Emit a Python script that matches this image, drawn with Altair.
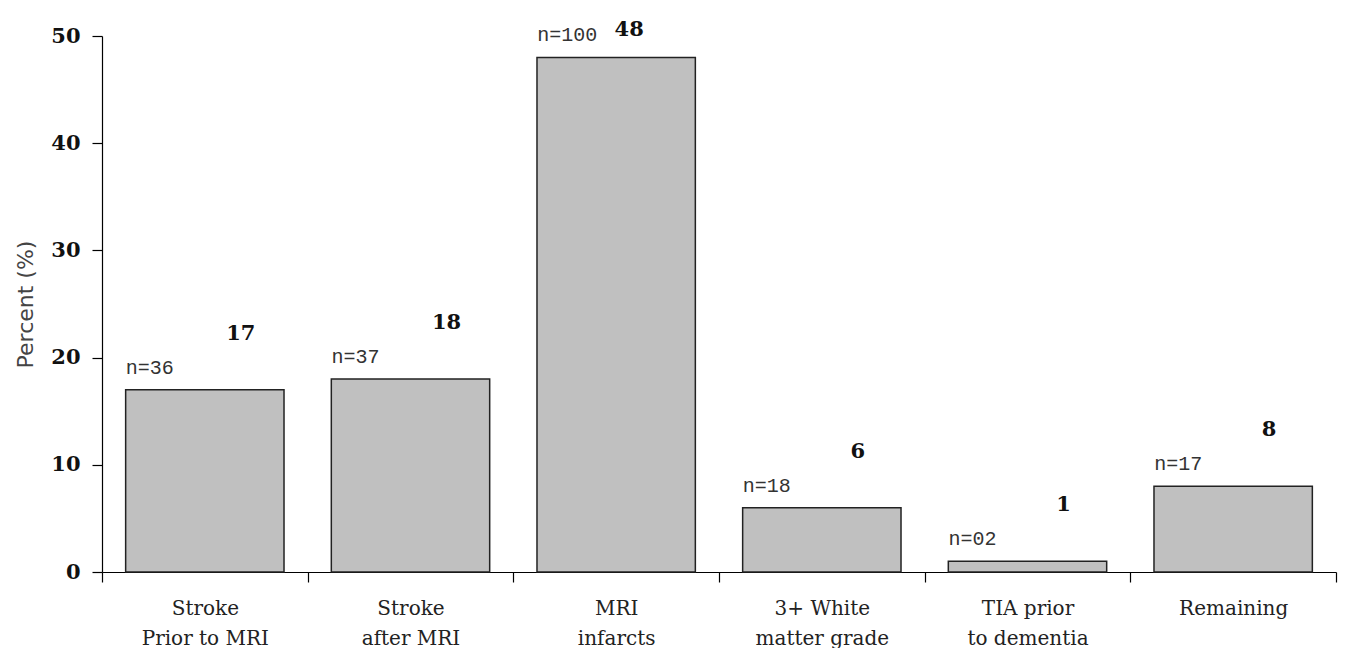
import altair as alt
import pandas as pd

categories = ["Stroke|Prior to MRI", "Stroke|after MRI", "MRI|infarcts",
              "3+ White|matter grade", "TIA prior|to dementia", "Remaining"]
percents = [17, 18, 48, 6, 1, 8]
n_labels = ["n=36", "n=37", "n=100", "n=18", "n=02", "n=17"]

df = pd.DataFrame({"cat": categories, "value": percents, "n": n_labels})

x_enc = alt.X(
    "cat:N", sort=categories,
    scale=alt.Scale(paddingInner=0, paddingOuter=0),
    axis=alt.Axis(
        title=None, labelExpr="split(datum.label, '|')", labelAngle=0,
        tickBand="extent", tickSize=10, tickColor="black", tickWidth=1.2,
        domainColor="black", domainWidth=1.2,
        labelFont="DejaVu Serif", labelFontSize=20, labelColor="#222",
        labelPadding=16, labelLineHeight=30, labelBaseline="top",
    ),
)
y_enc = alt.Y(
    "value:Q",
    scale=alt.Scale(domain=[0, 50], nice=False),
    axis=alt.Axis(
        values=[0, 10, 20, 30, 40, 50], title="Percent (%)", grid=False,
        tickSize=10, tickColor="black", tickWidth=1.2,
        domainColor="black", domainWidth=1.2,
        labelFont="DejaVu Serif", labelFontWeight="bold", labelFontSize=21,
        labelColor="#111", labelPadding=12,
        titleFont="DejaVu Sans", titleFontSize=22, titleFontWeight="normal",
        titleColor="#444", titleX=-77, titleY=268, titleAngle=270,
        titleAlign="center", titleBaseline="middle",
    ),
)

base = alt.Chart(df)

bars = base.mark_bar(
    color="#c0c0c0", stroke="#222", strokeWidth=1.5,
    width=alt.RelativeBandSize(0.77),
).encode(x=x_enc, y=y_enc)

n_text = base.mark_text(
    font="Liberation Mono", fontSize=20, color="#333",
    align="left", baseline="middle", dx=-79, dy=-22,
).encode(x=alt.X("cat:N", sort=categories), y="value:Q", text="n:N")

val_low = base.transform_filter("datum.value < 40").mark_text(
    font="DejaVu Serif", fontWeight="bold", fontSize=21, color="#111",
    align="center", baseline="middle", dx=36, dy=-56,
).encode(x=alt.X("cat:N", sort=categories), y="value:Q", text="value:Q")

val_high = base.transform_filter("datum.value >= 40").mark_text(
    font="DejaVu Serif", fontWeight="bold", fontSize=21, color="#111",
    align="center", baseline="middle", dx=13, dy=-27,
).encode(x=alt.X("cat:N", sort=categories), y="value:Q", text="value:Q")

chart = alt.layer(bars, n_text, val_low, val_high).properties(
    width=1234, height=536,
    padding={"left": 94, "top": 28, "right": 2, "bottom": 76},
    autosize=alt.AutoSizeParams(type="none"),
).configure(background="white").configure_view(stroke=None)

chart.save("out.html", embed_options={"renderer": "svg", "actions": False})
